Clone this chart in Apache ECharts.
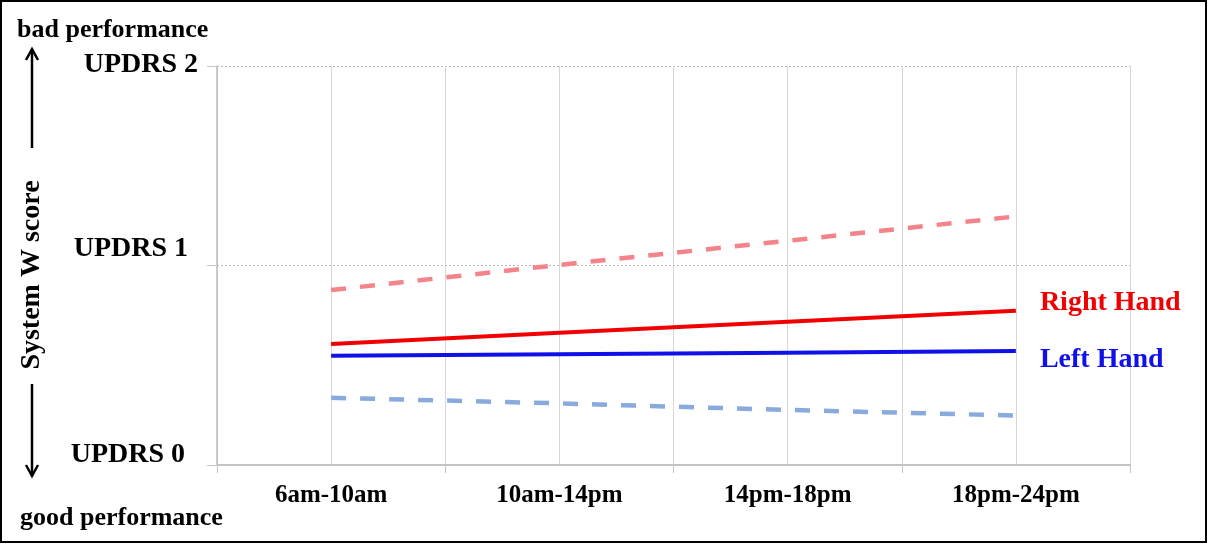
<!DOCTYPE html>
<html>
<head>
<meta charset="utf-8">
<title>System W score by time of day</title>
<script src="https://cdn.jsdelivr.net/npm/echarts@6/dist/echarts.min.js"></script>
<style>
  html, body { margin: 0; padding: 0; background: #ffffff; }
  #chart { width: 1208px; height: 544px; }
</style>
</head>
<body>
<div id="chart"></div>
<script>
// Time-of-day windows along the x axis
const categories = ['6am-10am', '10am-14pm', '14pm-18pm', '18pm-24pm'];

// System W score per window (UPDRS scale)
const rightHand = [0.607, 0.663, 0.718, 0.773];
const leftHand = [0.548, 0.555, 0.563, 0.571];
const rightHandUpper = [0.877, 1.003, 1.124, 1.246];
const leftHandLower = [0.337, 0.309, 0.276, 0.248];

// Tick labels on the score axis
const yTickLabels = ['UPDRS 0', 'UPDRS 1', 'UPDRS 2'];

const FONT = "'Liberation Serif', 'Times New Roman', serif";
const GRID_LEFT = 217, GRID_TOP = 66, GRID_RIGHT = 78, GRID_BOTTOM = 79;

const chart = echarts.init(document.getElementById('chart'), null, { renderer: 'canvas' });

// Draws an arrow (shaft + open head) as a graphic group
function arrow(x, y1, y2) {
  const dir = y2 < y1 ? -1 : 1;
  return {
    type: 'group',
    children: [
      { type: 'line', shape: { x1: x, y1: y1, x2: x, y2: y2 },
        style: { stroke: '#000', lineWidth: 2.5 } },
      { type: 'polyline', shape: { points: [[x - 6, y2 - dir * 11], [x, y2], [x + 6, y2 - dir * 11]] },
        style: { stroke: '#000', lineWidth: 2.5, fill: null } }
    ]
  };
}

const labelRich = {
  l0: { fontFamily: FONT, fontWeight: 'bold', fontSize: 28, color: '#000', padding: [0, 13, 20, 0] },
  l1: { fontFamily: FONT, fontWeight: 'bold', fontSize: 28, color: '#000', padding: [0, 10, 34, 0] },
  l2: { fontFamily: FONT, fontWeight: 'bold', fontSize: 28, color: '#000', padding: [0, 0, 2, 0] }
};

function lineSeries(name, data, color, dashed, endLabel) {
  const s = {
    name: name,
    type: 'line',
    data: data,
    xAxisIndex: 0,
    yAxisIndex: 0,
    symbol: 'none',
    silent: true,
    z: dashed ? 3 : 4,
    lineStyle: dashed
      ? { color: color, width: 4.5, type: [15, 14], cap: 'butt' }
      : { color: color, width: 4 }
  };
  if (endLabel) {
    s.endLabel = {
      show: true,
      formatter: name,
      color: color,
      fontFamily: FONT,
      fontWeight: 'bold',
      fontSize: 28,
      distance: 24,
      offset: endLabel
    };
  }
  return s;
}

const option = {
  backgroundColor: '#ffffff',
  animation: false,
  grid: { left: GRID_LEFT, top: GRID_TOP, right: GRID_RIGHT, bottom: GRID_BOTTOM, containLabel: false },
  xAxis: [
    {
      type: 'category',
      data: categories,
      boundaryGap: true,
      axisLine: { show: true, lineStyle: { color: '#c4c4c4', width: 2 } },
      axisTick: { show: true, length: 8, lineStyle: { color: '#c4c4c4', width: 1 } },
      axisLabel: { color: '#000', fontFamily: FONT, fontWeight: 'bold', fontSize: 25, margin: 18 },
      splitLine: { show: false }
    },
    {
      // fine vertical grid: window boundaries and window centres
      type: 'value',
      min: 0,
      max: 8,
      interval: 1,
      position: 'bottom',
      axisLine: { show: false },
      axisTick: { show: false },
      axisLabel: { show: false },
      splitLine: { show: true, lineStyle: { color: '#d6d6d6', width: 1 } }
    }
  ],
  yAxis: {
    type: 'value',
    min: 0,
    max: 2,
    interval: 1,
    axisLine: { show: true, lineStyle: { color: '#bdbdbd', width: 1.5 } },
    axisTick: { show: true, length: 10, lineStyle: { color: '#c4c4c4', width: 1 } },
    axisLabel: {
      margin: 19,
      formatter: function (v) { return '{l' + v + '|' + yTickLabels[v] + '}'; },
      rich: labelRich
    },
    splitLine: { show: true, lineStyle: { color: '#b8b8b8', width: 1, type: [2, 2] } }
  },
  series: [
    lineSeries('Right Hand upper', rightHandUpper, '#f4838a', true, null),
    lineSeries('Left Hand lower', leftHandLower, '#88aadd', true, null),
    lineSeries('Right Hand', rightHand, '#f00000', false, [0, -8]),
    lineSeries('Left Hand', leftHand, '#1010e8', false, [0, 9])
  ],
  graphic: [
    { type: 'rect', shape: { x: 1, y: 1, width: 1205, height: 541 },
      style: { stroke: '#000', lineWidth: 2, fill: null }, silent: true },
    { type: 'text', left: 17, top: 17,
      style: { text: 'bad performance', fontFamily: FONT, fontWeight: 'bold', fontSize: 26, fill: '#000' } },
    { type: 'text', left: 20, top: 505,
      style: { text: 'good performance', fontFamily: FONT, fontWeight: 'bold', fontSize: 26, fill: '#000' } },
    { type: 'text', x: 32, y: 275, rotation: Math.PI / 2,
      style: { text: 'System W score', fontFamily: FONT, fontWeight: 'bold', fontSize: 28, fill: '#000',
               align: 'center', verticalAlign: 'middle' } },
    arrow(32, 148, 49),
    arrow(32, 384, 476)
  ]
};

chart.setOption(option);
</script>
</body>
</html>
